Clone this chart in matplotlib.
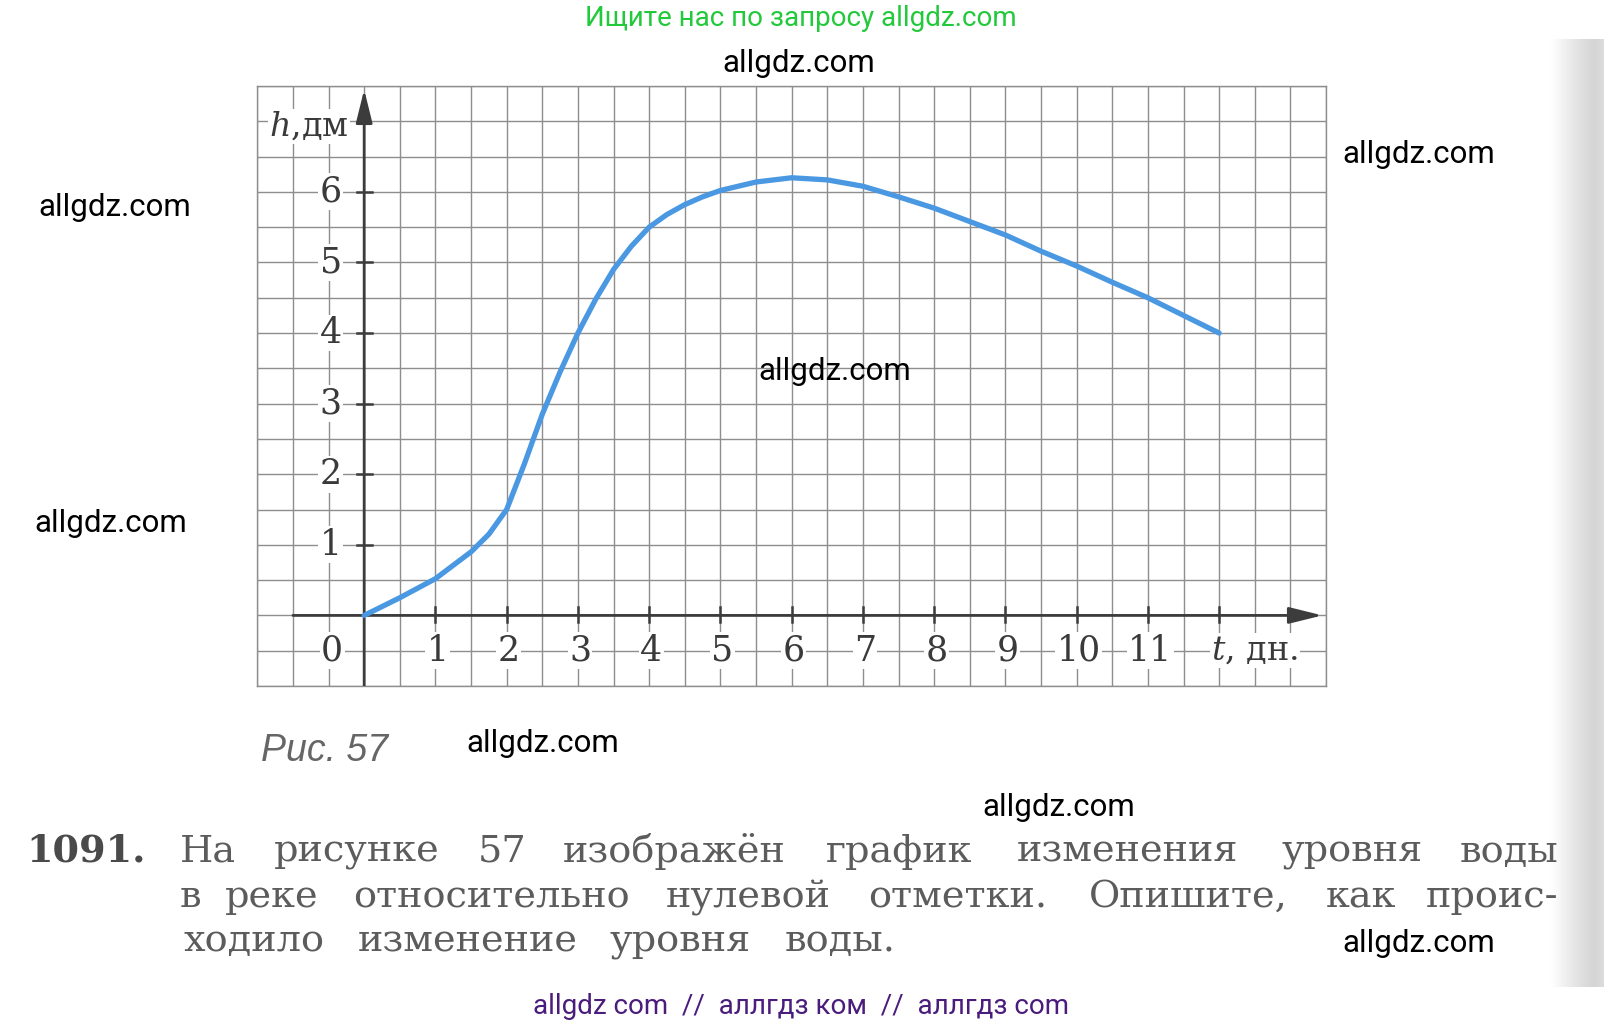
import matplotlib.pyplot as plt
import numpy as np
from matplotlib.patches import FancyArrowPatch

# ==========================================
# DATA
# ==========================================
# t = days, h = water level relative to the zero mark (dm)
days = [0, 0.5, 1, 1.5, 1.75, 2, 2.25, 2.5, 2.75, 3, 3.25, 3.5, 3.75, 4, 4.25,
        4.5, 4.75, 5, 5.5, 6, 6.5, 7, 7.5, 8, 8.5, 9, 9.5, 10, 10.5, 11, 11.5, 12]
level = [0, 0.25, 0.52, 0.9, 1.15, 1.5, 2.15, 2.85, 3.45, 4.0, 4.48, 4.9, 5.23,
         5.5, 5.68, 5.82, 5.93, 6.02, 6.14, 6.2, 6.17, 6.08, 5.93, 5.77, 5.58,
         5.39, 5.16, 4.95, 4.72, 4.5, 4.25, 4.0]

x_labels = [1, 2, 3, 4, 5, 6, 7, 8, 9, 10, 11]
y_labels = [1, 2, 3, 4, 5, 6]
x_marks = [1, 2, 3, 4, 5, 6, 7, 8, 9, 10, 11, 12]

# problem text, one list per printed line
line1 = ["1091.", "На", "рисунке", "57", "изображён", "график", "изменения", "уровня", "воды"]
line2 = ["в", "реке", "относительно", "нулевой", "отметки.", "Опишите,", "как", "проис-"]
line3 = ["ходило", "изменение", "уровня", "воды."]
line1_x = [86, 208, 357, 502, 674, 899, 1128, 1352, 1509]
line2_x = [190, 272, 491, 748, 958, 1188, 1361, 1492]
line3_x = [254, 468, 680, 840]

watermarks = [(799, 63), (1419, 155), (115, 207), (835, 371),
              (111, 524), (543, 744), (1059, 807), (1419, 943)]

W, H = 1604, 1027
fig = plt.figure(figsize=(W / 100, H / 100), dpi=100)
fig.patch.set_facecolor('white')
plt.rcParams['mathtext.fontset'] = 'dejavuserif'


def ftext(x, y, s, **kw):
    # place text using pixel coords of the page (origin top-left)
    return fig.text(x / W, 1 - y / H, s, **kw)


# page edge shadow on the right
edge = fig.add_axes([1548 / W, 1 - 987 / H, (W - 1548) / W, (987 - 39) / H])
shade = np.array([1.0, 0.985, 0.97, 0.955, 0.94, 0.925, 0.91, 0.895, 0.88,
                  0.865, 0.85, 0.84, 0.83, 0.84, 0.86])
edge.imshow(shade[None, :], cmap='gray', vmin=0, vmax=1, aspect='auto',
            interpolation='bicubic')
edge.axis('off')

# ==========================================
# GRAPH PAPER AXES
# ==========================================
ax = fig.add_axes([257.3 / W, 1 - 686 / H, (1326 - 257.3) / W, 600 / H])
ax.set_xlim(-1.5, 13.5)
ax.set_ylim(-1, 7.5)
ax.set_xticks(np.arange(-1.5, 13.51, 0.5))
ax.set_yticks(np.arange(-1, 7.51, 0.5))
ax.tick_params(length=0, labelbottom=False, labelleft=False)
ax.grid(True, color='#8e8e8e', lw=1.0)
for s in ax.spines.values():
    s.set_color('#8e8e8e')
    s.set_linewidth(1.0)

axis_col = '#3c3c3c'
arrow_kw = dict(arrowstyle='-|>,head_length=1.7,head_width=0.42', mutation_scale=12,
                color=axis_col, lw=2.0, zorder=4, shrinkA=0, shrinkB=0)
ax.add_patch(FancyArrowPatch((-1, 0), (13.45, 0), **arrow_kw))
ax.add_patch(FancyArrowPatch((0, -1), (0, 7.45), **arrow_kw))
for m in x_marks:
    ax.plot([m, m], [-0.09, 0.12], color=axis_col, lw=1.8, zorder=4)
for m in y_labels:
    ax.plot([-0.1, 0.11], [m, m], color=axis_col, lw=1.8, zorder=4)

# the curve
ax.plot(days, level, color='#4a98e2', lw=3.8, solid_joinstyle='round',
        solid_capstyle='round', zorder=5)

lbl = dict(fontsize=25, family='DejaVu Serif', color='#3a3a3a', ha='center', va='center',
           zorder=6, bbox=dict(fc='white', ec='none', pad=1.0))
for v in x_labels:
    ax.text(v + 0.03, -0.5, str(v), **lbl)
for v in y_labels:
    ax.text(-0.47, v, str(v), **lbl)
ax.text(-0.45, -0.5, '0', **lbl)

ax.text(-0.78, 6.93, r'$h$,дм', **dict(lbl, fontsize=24))
ax.text(12.5, -0.5, r'$t$, дн.', **dict(lbl, fontsize=24))

# ==========================================
# PAGE TEXT
# ==========================================
ftext(801, 18, 'Ищите нас по запросу allgdz.com', family='Roboto', fontsize=20,
      color='#22c93a', ha='center', va='center')
for (wx, wy) in watermarks:
    ftext(wx, wy, 'allgdz.com', family='Roboto', fontsize=22.5, color='black',
          ha='center', va='center', zorder=10)

ftext(325, 751, 'Рис. 57', family='Liberation Sans', style='italic', fontsize=27,
      color='#666666', ha='center', va='center')

txt = dict(family='DejaVu Serif', fontsize=27.5, color='#5c5c5c', ha='center', va='baseline')
for i, (w, x) in enumerate(zip(line1, line1_x)):
    if i == 0:
        ftext(x, 862, w, **dict(txt, weight='bold', color='#4a4a4a'))
    else:
        ftext(x, 862, w, **txt)
for w, x in zip(line2, line2_x):
    ftext(x, 907, w, **txt)
for w, x in zip(line3, line3_x):
    ftext(x, 951, w, **txt)

ftext(801, 1006, 'allgdz com  //  аллгдз ком  //  аллгдз com', family='Roboto',
      fontsize=20, color='#4a1c7c', ha='center', va='center')

fig.savefig('out.png', dpi=100, facecolor='white')
